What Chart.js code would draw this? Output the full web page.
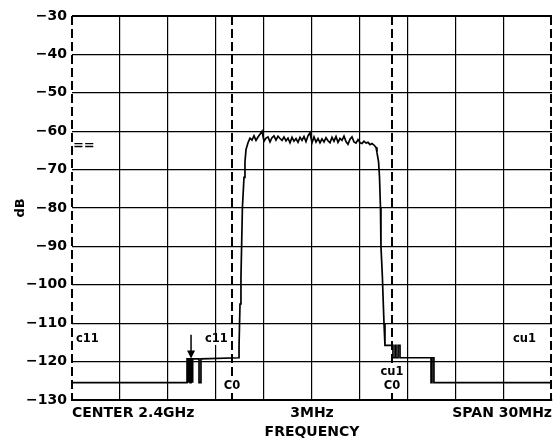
<!DOCTYPE html>
<html>
<head>
<meta charset="utf-8">
<script src="https://cdn.jsdelivr.net/npm/chart.js@4/dist/chart.umd.min.js"></script>
<style>
html,body{margin:0;padding:0;background:#fff;}
#c{display:block;}
</style>
</head>
<body>
<canvas id="c" width="555" height="441"></canvas>
<script>
// ---- data (frequency offset in MHz from left edge of 30 MHz span, level in dB) ----
const lowLeftFreq = [0, 7.19, 7.19, 7.25, 7.25, 7.31, 7.31, 7.38, 7.38, 7.44, 7.44, 7.5, 7.5, 7.56, 7.56, 7.94, 7.94, 8.06, 8.06, 10.44];
const lowLeftDb   = [-125.5, -125.5, -119.3, -119.3, -125.5, -125.5, -119.3, -119.3, -125.5, -125.5, -119.3, -119.3, -125.5, -125.5, -119.3, -119.3, -125.5, -125.5, -119.3, -119.0];

const riseFreq = [10.44, 10.5, 10.56, 10.6, 10.65, 10.75, 10.81, 10.875];
const riseDb   = [-116, -105, -98, -90, -80, -72, -68, -64.8];

const topFreq = [11.0, 11.125, 11.25, 11.375, 11.5, 11.625, 11.75, 11.875, 12.0, 12.125, 12.25, 12.375, 12.5, 12.625, 12.75, 12.875,
  13.0, 13.125, 13.25, 13.375, 13.5, 13.625, 13.75, 13.875, 14.0, 14.125, 14.25, 14.375, 14.5, 14.625, 14.75, 14.875,
  15.0, 15.125, 15.25, 15.375, 15.5, 15.625, 15.75, 15.875, 16.0, 16.125, 16.25, 16.375, 16.5, 16.625, 16.75, 16.875,
  17.0, 17.125, 17.25, 17.375, 17.5, 17.625, 17.75, 17.875, 18.0, 18.125, 18.25, 18.375, 18.5, 18.625, 18.75, 18.875, 19.0];
const topDb = [-63.0, -61.8, -62.3, -61.2, -62.4, -61.5, -60.8, -60.0, -62.6, -61.8, -61.5, -62.8, -61.7, -61.2, -62.3, -61.3,
  -61.9, -62.4, -61.5, -62.5, -61.8, -63.0, -61.6, -62.6, -61.9, -62.9, -61.6, -62.4, -61.4, -62.7, -61.2, -60.4,
  -63.0, -61.5, -62.8, -61.9, -63.0, -62.0, -62.8, -61.7, -62.5, -63.0, -61.6, -62.6, -61.4, -62.9, -61.9, -62.4,
  -61.3, -62.7, -63.4, -62.1, -61.5, -62.8, -63.1, -62.2, -63.0, -63.2, -62.6, -63.1, -62.9, -63.5, -63.2, -63.6, -64.2];

const fallFreq = [19.06, 19.16, 19.22, 19.28, 19.31, 19.4, 19.44, 19.5, 19.56];
const fallDb   = [-65.5, -68, -72, -80, -90, -98, -103, -110, -115.8];

const lowRightFreq = [20.06, 20.06, 20.19, 20.19, 20.25, 20.25, 20.38, 20.38, 20.5, 20.5, 22.44, 22.44, 22.5, 22.5, 22.62, 22.62, 30];
const lowRightDb   = [-115.8, -119.0, -119.0, -115.8, -115.8, -119.0, -119.0, -115.8, -115.8, -119.0, -119.0, -125.5, -125.5, -119.0, -119.0, -125.5, -125.5];

const yTicks = [-130, -120, -110, -100, -90, -80, -70, -60, -50, -40, -30];
const markerFreqs = [0, 10, 20, 30];   // dashed vertical lines
const xLabels = ['CENTER 2.4GHz', '3MHz', 'SPAN 30MHz'];
const xTitle = 'FREQUENCY';
const yTitle = 'dB';

// annotations: [text, freq, dB, align]
const notes = [
  ['c11', 0.25, -114.1, 'left'],
  ['c11', 8.31, -114.1, 'left'],
  ['C0', 10.0, -126.4, 'center'],
  ['cu1', 20.0, -122.7, 'center'],
  ['C0', 20.0, -126.4, 'center'],
  ['cu1', 27.56, -114.1, 'left']
];
const refMarker = ['==', 0.06, -63.8];
const arrowAt = [7.44, -113.0, -119.2];

const freq = [].concat(lowLeftFreq, riseFreq, topFreq, fallFreq, lowRightFreq);
const level = [].concat(lowLeftDb, riseDb, topDb, fallDb, lowRightDb);
const points = freq.map((f, i) => ({x: f, y: level[i]}));

const FONT = '"DejaVu Sans", "Liberation Sans", Arial, sans-serif';

const overlay = {
  id: 'overlay',
  beforeDatasetsDraw(chart) {
    const {ctx, chartArea: a, scales: {x}} = chart;
    ctx.save();
    ctx.strokeStyle = '#000';
    ctx.lineWidth = 2;
    ctx.setLineDash([9, 4]);
    markerFreqs.forEach(f => {
      const px = Math.round(x.getPixelForValue(f)) - (f === 30 ? 1 : 0);
      ctx.beginPath();
      ctx.moveTo(px, a.top);
      ctx.lineTo(px, a.bottom);
      ctx.stroke();
    });
    ctx.restore();
  },
  afterDraw(chart) {
    const {ctx, chartArea: a, scales: {x, y}} = chart;
    ctx.save();
    ctx.fillStyle = '#000';
    // x labels
    ctx.font = 'bold 14px ' + FONT;
    ctx.textBaseline = 'middle';
    ctx.textAlign = 'left';
    ctx.fillText(xLabels[0], a.left, 413);
    ctx.textAlign = 'center';
    ctx.fillText(xLabels[1], x.getPixelForValue(15), 413);
    ctx.textAlign = 'right';
    ctx.fillText(xLabels[2], a.right, 413);
    ctx.textAlign = 'center';
    ctx.fillText(xTitle, x.getPixelForValue(15), 432);
    // y title
    ctx.save();
    ctx.translate(21, (a.top + a.bottom) / 2);
    ctx.rotate(-Math.PI / 2);
    ctx.font = 'bold 13px ' + FONT;
    ctx.textAlign = 'center';
    ctx.fillText(yTitle, 0, 0);
    ctx.restore();
    // notes with white backing
    ctx.font = 'bold 11.5px ' + FONT;
    notes.forEach(([t, f, d, al]) => {
      const px = x.getPixelForValue(f), py = y.getPixelForValue(d);
      const w = ctx.measureText(t).width;
      const left = al === 'center' ? px - w / 2 : px;
      ctx.fillStyle = '#fff';
      ctx.fillRect(left - 1, py - 6, w + 2, 12);
      ctx.fillStyle = '#000';
      ctx.textAlign = 'left';
      ctx.fillText(t, left, py);
    });
    ctx.font = 'bold 13px ' + FONT;
    ctx.textAlign = 'left';
    ctx.fillText(refMarker[0], x.getPixelForValue(refMarker[1]), y.getPixelForValue(refMarker[2]));
    // arrow
    const ax = x.getPixelForValue(arrowAt[0]);
    const y1 = y.getPixelForValue(arrowAt[1]);
    const y2 = y.getPixelForValue(arrowAt[2]);
    ctx.strokeStyle = '#000';
    ctx.lineWidth = 1.5;
    ctx.beginPath();
    ctx.moveTo(ax, y1);
    ctx.lineTo(ax, y2 - 7);
    ctx.stroke();
    ctx.beginPath();
    ctx.moveTo(ax - 4, y2 - 8);
    ctx.lineTo(ax + 4, y2 - 8);
    ctx.lineTo(ax, y2);
    ctx.closePath();
    ctx.fill();
    ctx.restore();
  }
};

new Chart(document.getElementById('c'), {
  type: 'scatter',
  data: {
    datasets: [{
      data: points,
      showLine: true,
      borderColor: '#000',
      borderWidth: 1.7,
      pointRadius: 0,
      tension: 0
    }]
  },
  options: {
    responsive: false,
    animation: false,
    events: [],
    layout: {padding: {top: 16, right: 3, bottom: 0, left: 0}},
    plugins: {legend: {display: false}, tooltip: {enabled: false}},
    scales: {
      x: {
        type: 'linear', min: 0, max: 30,
        ticks: {stepSize: 3, display: false},
        grid: {
          color: c => (c.tick && (c.tick.value === 0 || c.tick.value === 30)) ? 'rgba(0,0,0,0)' : '#000',
          lineWidth: 1.2,
          drawTicks: false
        },
        border: {display: true, color: '#000', width: 2},
        afterFit: s => { s.height = 41; }
      },
      y: {
        min: -130, max: -30,
        afterBuildTicks: s => { s.ticks = yTicks.map(v => ({value: v})); },
        ticks: {
          callback: v => '\u2212' + Math.abs(v),
          color: '#000',
          font: {family: FONT, size: 14, weight: 'bold'},
          padding: 5
        },
        grid: {
          color: '#000',
          lineWidth: c => (c.tick && c.tick.value === -30) ? 2 : 1.2,
          drawTicks: false
        },
        border: {display: false},
        afterFit: s => { s.width = 72; }
      }
    }
  },
  plugins: [overlay]
});
</script>
</body>
</html>
